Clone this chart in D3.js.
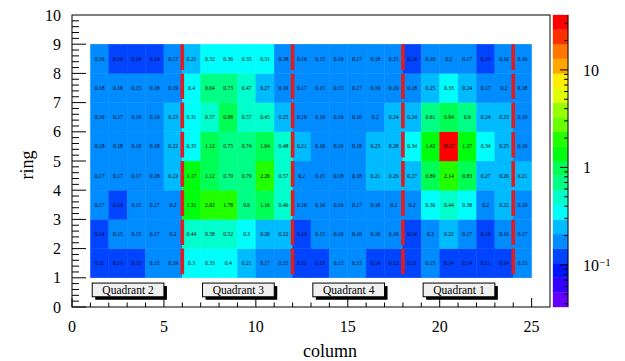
<!DOCTYPE html>
<html>
<head>
<meta charset="utf-8">
<script src="https://cdn.jsdelivr.net/npm/d3@7"></script>
<style>
body { margin: 0; background: #fff; }
text { font-family: "Liberation Serif", "DejaVu Serif", serif; }
</style>
</head>
<body>
<script>
// bin contents, one row per ring (ring 1 first), columns 1..24
var ring1 = [0.11,0.13,0.13,0.15,0.19, 0.3,0.33,0.4,0.21,0.17,0.15, 0.12,0.13,0.15,0.15,0.14,0.12, 0.11,0.15,0.14,0.14,0.11,0.14, 0.15];
var ring2 = [0.14,0.15,0.15,0.17,0.2, 0.44,0.58,0.52,0.3,0.26,0.22, 0.14,0.15,0.16,0.16,0.16,0.16, 0.14,0.2,0.22,0.17,0.14,0.16, 0.17];
var ring3 = [0.17,0.14,0.15,0.17,0.2, 1.31,2.02,1.78,0.6,1.16,0.46, 0.16,0.16,0.16,0.17,0.18,0.2, 0.2,0.36,0.44,0.38,0.2,0.22, 0.19];
var ring4 = [0.17,0.17,0.17,0.18,0.22, 1.17,1.12,0.79,0.79,2.26,0.57, 0.2,0.15,0.18,0.18,0.21,0.26, 0.27,0.89,2.14,0.83,0.27,0.26, 0.21];
var ring5 = [0.18,0.18,0.19,0.18,0.22, 0.35,1.12,0.75,0.74,1.04,0.48, 0.21,0.16,0.16,0.18,0.23,0.28, 0.34,1.42,36.57,1.27,0.34,0.25, 0.19];
var ring6 = [0.16,0.17,0.16,0.19,0.23, 0.31,0.57,0.98,0.57,0.45,0.25, 0.19,0.16,0.16,0.16,0.2,0.24, 0.24,0.61,0.94,0.6,0.24,0.23, 0.19];
var ring7 = [0.18,0.16,0.15,0.18,0.19, 0.4,0.64,0.73,0.47,0.27,0.19, 0.17,0.15,0.15,0.17,0.19,0.19, 0.18,0.25,0.33,0.24,0.17,0.2, 0.18];
var ring8 = [0.16,0.14,0.14,0.14,0.17, 0.21,0.32,0.36,0.35,0.31,0.18, 0.16,0.15,0.16,0.17,0.18,0.15, 0.14,0.16,0.2,0.17,0.13,0.16, 0.16];
var rings = [ring1, ring2, ring3, ring4, ring5, ring6, ring7, ring8];

var quadrants = ["Quadrant 2", "Quadrant 3", "Quadrant 4", "Quadrant 1"];
var dividers = [6, 12, 18, 24];
var xTicks = [0, 5, 10, 15, 20, 25];
var yTicks = [0,1,2,3,4,5,6,7,8,9,10];
var zTicks = [0.1, 1, 10];
var zMin = 0.037, zMax = 36.57, nLevels = 20;

var W = 625, H = 361;
var frameL = 72, frameR = 550, frameT = 15, frameB = 307;

var svg = d3.select("body").append("svg")
  .attr("width", W).attr("height", H);

var x = d3.scaleLinear().domain([0, 26]).range([frameL, frameR]);
var y = d3.scaleLinear().domain([0, 10]).range([frameB, frameT]);
var z = d3.scaleLog().domain([zMin, zMax]).range([frameB, frameT]);

// ROOT style pretty palette: 50 colours, 20 contour levels
var levelOf = d3.scaleLinear().domain([Math.log10(zMin), Math.log10(zMax)]).range([0, nLevels]);
function level(v) {
  return Math.max(0, Math.min(nLevels - 1, Math.floor(levelOf(Math.log10(v)))));
}
function levelColor(c) {
  var idx = Math.floor((c + 0.99) * 50 / nLevels);
  return d3.hsl(280 - (idx + 1) * 5.6, 1, 0.5).formatRgb();
}

var cells = [];
rings.forEach(function (row, r) {
  row.forEach(function (v, c) {
    cells.push({ col: c + 1, ring: r + 1, v: v });
  });
});

var g = svg.append("g");
g.selectAll("rect.cell")
  .data(cells)
  .enter().append("rect")
  .attr("class", "cell")
  .attr("x", function (d) { return x(d.col); })
  .attr("y", function (d) { return y(d.ring + 1); })
  .attr("width", function (d) { return x(d.col + 1) - x(d.col); })
  .attr("height", function (d) { return y(d.ring) - y(d.ring + 1); })
  .style("fill", function (d) { return levelColor(level(d.v)); })
  .style("stroke", function (d) { return levelColor(level(d.v)); })
  .style("stroke-width", 0.4);

g.selectAll("text.val")
  .data(cells)
  .enter().append("text")
  .attr("class", "val")
  .attr("x", function (d) { return (x(d.col) + x(d.col + 1)) / 2; })
  .attr("y", function (d) { return (y(d.ring) + y(d.ring + 1)) / 2; })
  .attr("dy", "0.35em")
  .attr("text-anchor", "middle")
  .style("font-size", "5.6px")
  .text(function (d) { return String(d.v); });

// dashed red quadrant dividers
var rowH = y(1) - y(2);
svg.selectAll("line.div")
  .data(dividers)
  .enter().append("line")
  .attr("x1", function (d) { return x(d); })
  .attr("x2", function (d) { return x(d); })
  .attr("y1", y(9))
  .attr("y2", y(1))
  .style("stroke", "#e41a1c")
  .style("stroke-width", 3.6)
  .style("stroke-dasharray", (rowH * 0.88) + "," + (rowH * 0.12));

// quadrant labels
var qg = svg.selectAll("g.q")
  .data(quadrants)
  .enter().append("g").attr("class", "q");
qg.append("rect")
  .attr("x", function (d, i) { return x(dividers[i] - 4.9) + 3; })
  .attr("y", y(0.82) + 3)
  .attr("width", x(3.9) - x(0))
  .attr("height", y(0.35) - y(0.82))
  .style("fill", "#000");
qg.append("rect")
  .attr("x", function (d, i) { return x(dividers[i] - 4.9); })
  .attr("y", y(0.82))
  .attr("width", x(3.9) - x(0))
  .attr("height", y(0.35) - y(0.82))
  .style("fill", "#f0f0f0")
  .style("stroke", "#000")
  .style("stroke-width", 1);
qg.append("text")
  .attr("x", function (d, i) { return x(dividers[i] - 2.95); })
  .attr("y", y(0.585))
  .attr("dy", "0.35em")
  .attr("text-anchor", "middle")
  .style("font-size", "11.5px")
  .text(function (d) { return d; });

// frame
svg.append("rect")
  .attr("x", frameL).attr("y", frameT)
  .attr("width", frameR - frameL).attr("height", frameB - frameT)
  .style("fill", "none").style("stroke", "#000").style("stroke-width", 1);

// x axis ticks (inside)
var xMinor = d3.range(0, 26);
svg.selectAll("line.xt")
  .data(xMinor)
  .enter().append("line")
  .attr("x1", function (d) { return x(d); })
  .attr("x2", function (d) { return x(d); })
  .attr("y1", frameB)
  .attr("y2", function (d) { return frameB - (d % 5 === 0 ? 9 : 4.5); })
  .style("stroke", "#000");
svg.selectAll("text.xl")
  .data(xTicks)
  .enter().append("text")
  .attr("x", function (d) { return x(d); })
  .attr("y", 332)
  .attr("text-anchor", "middle")
  .style("font-size", "16px")
  .text(function (d) { return d; });

// y axis ticks
var yMinor = d3.range(0, 50).map(function (i) { return i / 5; });
svg.selectAll("line.yt")
  .data(yMinor)
  .enter().append("line")
  .attr("x1", frameL)
  .attr("x2", function (d, i) { return frameL + (i % 5 === 0 ? 14 : 7); })
  .attr("y1", function (d) { return y(d); })
  .attr("y2", function (d) { return y(d); })
  .style("stroke", "#000");
svg.selectAll("text.yl")
  .data(yTicks)
  .enter().append("text")
  .attr("x", 61)
  .attr("y", function (d) { return y(d); })
  .attr("dy", "0.35em")
  .attr("text-anchor", "end")
  .style("font-size", "16px")
  .text(function (d) { return d; });

svg.append("text")
  .attr("x", 330).attr("y", 357)
  .attr("text-anchor", "middle")
  .style("font-size", "18px")
  .text("column");
svg.append("text")
  .attr("transform", "translate(33,165) rotate(-90)")
  .attr("text-anchor", "middle")
  .style("font-size", "18px")
  .text("ring");

// colour bar
var cbL = 553, cbR = 568;
var step = (Math.log10(zMax) - Math.log10(zMin)) / nLevels;
var bands = d3.range(nLevels);
svg.selectAll("rect.band")
  .data(bands)
  .enter().append("rect")
  .attr("x", cbL)
  .attr("width", cbR - cbL)
  .attr("y", function (k) { return z(Math.pow(10, Math.log10(zMin) + (k + 1) * step)); })
  .attr("height", function (k) {
    return z(Math.pow(10, Math.log10(zMin) + k * step)) - z(Math.pow(10, Math.log10(zMin) + (k + 1) * step));
  })
  .style("fill", function (k) { return levelColor(k); })
  .style("stroke", function (k) { return levelColor(k); })
  .style("stroke-width", 0.3);
svg.append("line")
  .attr("x1", cbR).attr("x2", cbR).attr("y1", frameT).attr("y2", frameB)
  .style("stroke", "#000");

var zMinor = [];
[0.01, 0.1, 1, 10].forEach(function (dec) {
  for (var m = 1; m < 10; m++) {
    var v = dec * m;
    if (v >= zMin && v <= zMax) zMinor.push(v);
  }
});
svg.selectAll("line.zt")
  .data(zMinor)
  .enter().append("line")
  .attr("x1", cbR)
  .attr("x2", function (d) { return cbR - (zTicks.indexOf(d) >= 0 ? 8 : 4); })
  .attr("y1", function (d) { return z(d); })
  .attr("y2", function (d) { return z(d); })
  .style("stroke", "#000");

var zl = svg.selectAll("text.zl")
  .data(zTicks)
  .enter().append("text")
  .attr("x", 583)
  .attr("y", function (d) { return z(d); })
  .attr("dy", "0.35em")
  .style("font-size", "16px");
zl.each(function (d) {
  var t = d3.select(this);
  if (d < 1) {
    t.append("tspan").text("10");
    t.append("tspan").attr("dy", "-0.45em").style("font-size", "11px").text("\u22121");
  } else {
    t.text(d);
  }
});
</script>
</body>
</html>
